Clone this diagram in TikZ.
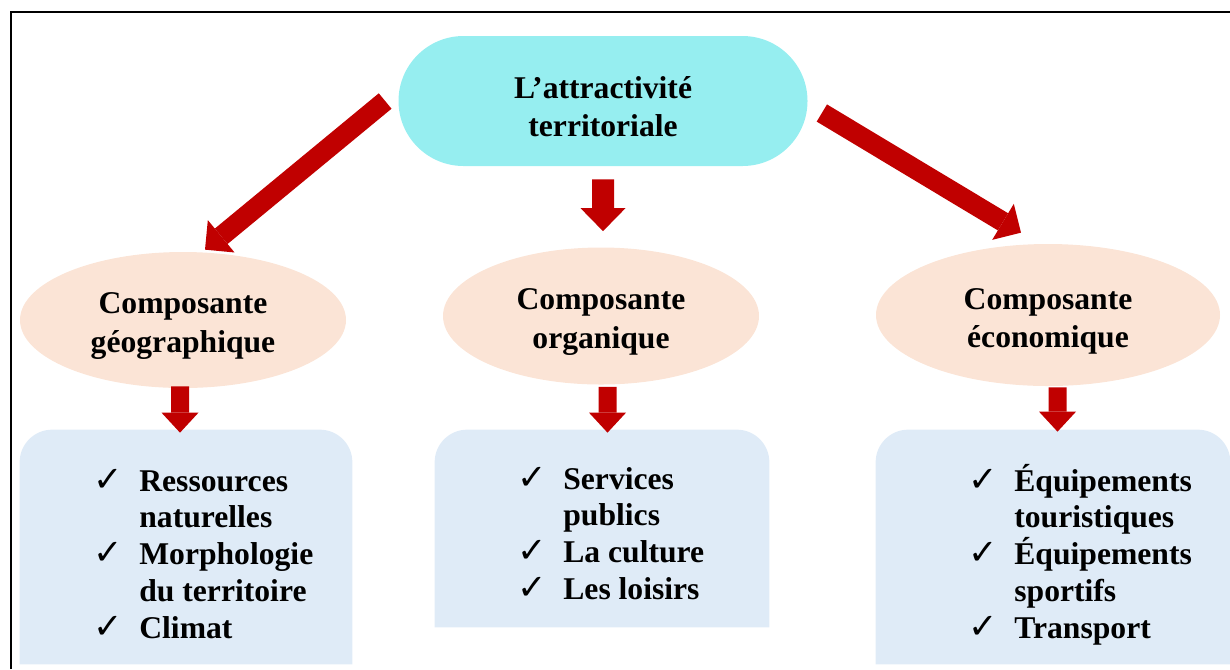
\documentclass[tikz,border=0pt]{standalone}
\usepackage{fontspec}
\setmainfont{Liberation Serif}
\newfontfamily\chkfont{DejaVu Sans}
\usetikzlibrary{arrows.meta,shapes.geometric}
\definecolor{topcyan}{RGB}{150,238,240}
\definecolor{peach}{RGB}{251,228,214}
\definecolor{listblue}{RGB}{223,235,247}
\definecolor{arrowred}{RGB}{192,0,0}
\newcommand{\chk}{\makebox[0.92cm][l]{\chkfont\fontsize{20}{21}\selectfont ✓}}
\newcommand{\ind}{\hspace*{0.92cm}}
\newcommand{\firststrut}{\rule{0pt}{19pt}}
\newcommand{\toprounded}[1]{\fill[listblue] (#1.south west) -- ([yshift=-0.65cm]#1.north west) arc[start angle=180,end angle=90,radius=0.65cm] -- ([xshift=-0.65cm]#1.north east) arc[start angle=90,end angle=0,radius=0.65cm] -- (#1.south east) -- cycle;}
\begin{document}
\begin{tikzpicture}[
  every node/.style={font=\bfseries\fontsize{18}{22}\selectfont},
  topnode/.style={fill=topcyan, rounded corners=1.3cm, minimum width=8.18cm, minimum height=2.6cm, align=center},
  compnode/.style={ellipse, fill=peach, align=center, inner sep=0pt},
  boxnode/.style={inner sep=0pt},
  listnode/.style={anchor=base west, inner sep=0pt, font=\bfseries\fontsize{18}{21}\selectfont},
  bigarrow/.style={arrowred, line width=0.4cm, -{Triangle[width=0.84cm,length=0.42cm,line width=0pt]}},
  midarrow/.style={arrowred, line width=0.44cm, -{Triangle[width=0.9cm,length=0.46cm,line width=0pt]}},
  downarrow/.style={arrowred, line width=0.36cm, -{Triangle[width=0.74cm,length=0.4cm,line width=0pt]}}]
\useasboundingbox (0,0) rectangle (24.6,-13.38);
\draw[line width=0.04cm] (0.22,-13.38) |- (24.6,-0.24);
\node(attract)[topnode] at (12.06,-2.02){\firststrut L’attractivité\\territoriale};
\node(geo)[compnode, minimum width=6.52cm, minimum height=2.72cm] at (3.66,-6.40){\firststrut Composante\\géographique};
\node(org)[compnode, minimum width=6.32cm, minimum height=2.74cm] at (12.02,-6.32){\firststrut Composante\\organique};
\node(eco)[compnode, minimum width=6.88cm, minimum height=2.84cm] at (20.96,-6.30){\firststrut Composante\\économique};
\node(geobox)[boxnode, minimum width=6.64cm, minimum height=4.68cm] at (3.72,-10.94){};
\node(orgbox)[boxnode, minimum width=6.68cm, minimum height=3.94cm] at (12.04,-10.57){};
\node(ecobox)[boxnode, minimum width=7.08cm, minimum height=4.68cm] at (21.06,-10.94){};
\toprounded{geobox}
\toprounded{orgbox}
\toprounded{ecobox}
\node(geolist)[listnode] at (1.86,-9.82){\parbox[t]{5cm}{\chk Ressources\\\ind naturelles\\\chk Morphologie\\\ind du territoire\\\chk Climat}};
\node(orglist)[listnode] at (10.34,-9.78){\parbox[t]{5cm}{\chk Services\\\ind publics\\\chk La culture\\\chk Les loisirs}};
\node(ecolist)[listnode] at (19.36,-9.82){\parbox[t]{5cm}{\chk Équipements\\\ind touristiques\\\chk Équipements\\\ind sportifs\\\chk Transport}};
\draw[bigarrow] ([xshift=-0.26cm]attract.west) -- ([xshift=0.44cm,yshift=0.04cm]geo.north);
\draw[bigarrow] ([xshift=0.28cm,yshift=-0.24cm]attract.east) -- ([xshift=-0.54cm,yshift=0.22cm]eco.north);
\draw[midarrow] ([yshift=-0.26cm]attract.south) -- ([xshift=0.04cm,yshift=0.32cm]org.north);
\draw[downarrow] ([xshift=-0.06cm,yshift=0.04cm]geo.south) -- ([xshift=-0.12cm,yshift=-0.06cm]geobox.north);
\draw[downarrow] ([xshift=0.13cm,yshift=-0.04cm]org.south) -- ([xshift=0.11cm,yshift=-0.06cm]orgbox.north);
\draw[downarrow] ([xshift=0.19cm,yshift=-0.02cm]eco.south) -- ([xshift=0.09cm,yshift=-0.04cm]ecobox.north);
\end{tikzpicture}
\end{document}
